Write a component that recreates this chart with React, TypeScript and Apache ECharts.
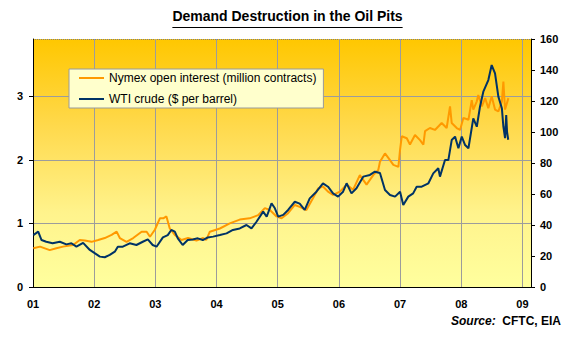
import React, { useEffect, useRef } from "react";
import * as echarts from "echarts";

const chartTitle = "Demand Destruction in the Oil Pits";
const oiName = "Nymex open interest (million contracts)";
const wtiName = "WTI crude ($ per barrel)";
const sourceLabel = "Source:";
const sourceText = "CFTC, EIA";

const leftTicks = [0, 1, 2, 3];

const oiDates = [
  "2001-01-03", "2001-02-12", "2001-04-11", "2001-05-20", "2001-06-29", "2001-08-28",
  "2001-10-07", "2001-11-06", "2001-12-16", "2002-01-25", "2002-03-05", "2002-04-15",
  "2002-05-15", "2002-06-03", "2002-07-13", "2002-08-22", "2002-10-11", "2002-11-10",
  "2002-11-30", "2002-12-29", "2003-01-28", "2003-02-17", "2003-03-08", "2003-03-28",
  "2003-04-27", "2003-06-06", "2003-07-15", "2003-09-03", "2003-10-13", "2003-11-01",
  "2003-11-22", "2004-01-21", "2004-03-20", "2004-05-19", "2004-07-17", "2004-09-06",
  "2004-10-16", "2004-11-15", "2004-12-25", "2005-01-24", "2005-03-04", "2005-04-13",
  "2005-05-12", "2005-06-21", "2005-07-31", "2005-08-30", "2005-09-28", "2005-10-28",
  "2005-11-27", "2006-01-07", "2006-02-16", "2006-03-27", "2006-05-06", "2006-06-15",
  "2006-07-25", "2006-08-24", "2006-09-03", "2006-10-03", "2006-10-23", "2006-11-22",
  "2006-12-22", "2007-01-01", "2007-01-11", "2007-02-10", "2007-03-01", "2007-03-31",
  "2007-04-30", "2007-05-20", "2007-05-30", "2007-06-28", "2007-07-28", "2007-09-06",
  "2007-10-06", "2007-10-26", "2007-11-05", "2007-12-05", "2007-12-25", "2008-01-14",
  "2008-02-13", "2008-03-04", "2008-03-13", "2008-04-03", "2008-04-12", "2008-05-03",
  "2008-05-23", "2008-06-11", "2008-07-01", "2008-07-21", "2008-08-10", "2008-08-31",
  "2008-09-09", "2008-09-19", "2008-10-09",
];
const oiValues = [
  0.61, 0.635, 0.58, 0.61, 0.635, 0.66,
  0.74, 0.73, 0.71, 0.74, 0.77, 0.82,
  0.87, 0.77, 0.71, 0.77, 0.87, 0.87,
  0.79, 0.9, 1.08, 1.08, 1.11, 0.92,
  0.82, 0.74, 0.77, 0.73, 0.77, 0.74,
  0.87, 0.92, 1.0, 1.06, 1.08, 1.13,
  1.24, 1.21, 1.11, 1.08, 1.16, 1.29,
  1.26, 1.21, 1.4, 1.55, 1.58, 1.5,
  1.45, 1.5, 1.61, 1.53, 1.76, 1.61,
  1.76, 1.84, 1.97, 2.1, 2.03, 1.92,
  1.89, 2.16, 2.37, 2.34, 2.24, 2.39,
  2.31, 2.24, 2.45, 2.5, 2.47, 2.58,
  2.5, 2.84, 2.58, 2.5, 2.47, 2.66,
  2.63, 2.94, 2.79, 2.92, 3.02, 2.84,
  2.97, 2.81, 3.0, 2.79, 2.76, 2.92,
  3.23, 2.79, 2.97,
];

const wtiDates = [
  "2001-01-03", "2001-02-01", "2001-02-21", "2001-03-21", "2001-04-28", "2001-06-10",
  "2001-07-19", "2001-08-18", "2001-09-17", "2001-10-27", "2001-12-06", "2002-01-06",
  "2002-02-04", "2002-03-05", "2002-04-04", "2002-05-04", "2002-05-22", "2002-06-21",
  "2002-08-01", "2002-09-10", "2002-10-18", "2002-11-17", "2002-12-16", "2003-01-08",
  "2003-02-15", "2003-03-16", "2003-04-06", "2003-04-27", "2003-05-15", "2003-06-13",
  "2003-07-13", "2003-08-12", "2003-09-11", "2003-10-11", "2003-11-10", "2003-12-12",
  "2004-01-21", "2004-03-01", "2004-04-08", "2004-05-19", "2004-06-28", "2004-07-28",
  "2004-08-27", "2004-10-06", "2004-10-27", "2004-11-25", "2004-12-15", "2005-01-04",
  "2005-02-03", "2005-03-04", "2005-04-13", "2005-05-12", "2005-06-11", "2005-07-11",
  "2005-08-20", "2005-09-28", "2005-10-28", "2005-11-27", "2005-12-27", "2006-01-26",
  "2006-02-16", "2006-03-17", "2006-04-16", "2006-05-26", "2006-07-05", "2006-08-04",
  "2006-09-03", "2006-10-03", "2006-11-02", "2006-12-02", "2007-01-01", "2007-01-20",
  "2007-02-19", "2007-03-20", "2007-04-10", "2007-05-10", "2007-06-19", "2007-07-18",
  "2007-08-17", "2007-08-27", "2007-09-26", "2007-10-16", "2007-11-05", "2007-11-25",
  "2007-12-15", "2008-01-04", "2008-01-24", "2008-02-13", "2008-03-13", "2008-04-03",
  "2008-04-22", "2008-05-12", "2008-06-11", "2008-07-01", "2008-07-21", "2008-08-10",
  "2008-08-31", "2008-09-09", "2008-09-19", "2008-09-26", "2008-10-01", "2008-10-08",
];
const wtiValues = [
  33.5, 35.7, 30.3, 29.2, 28.2, 29.2,
  27.5, 28.2, 26.0, 28.5, 23.9, 21.7,
  19.6, 19.2, 20.7, 22.8, 26.0, 26.0,
  28.2, 27.1, 29.2, 30.7, 27.1, 26.0,
  32.0, 33.5, 36.8, 35.7, 31.4, 27.1,
  30.3, 30.7, 31.4, 30.3, 32.0, 32.5,
  33.5, 34.6, 36.8, 37.8, 40.0, 37.8,
  42.1, 48.6, 45.3, 54.0, 50.8, 45.4,
  46.5, 49.7, 55.0, 53.8, 49.7, 57.2,
  61.5, 66.9, 64.7, 60.4, 58.3, 61.5,
  66.9, 60.4, 63.7, 71.2, 72.3, 74.4,
  73.5, 62.6, 59.4, 58.3, 61.5, 52.9,
  58.3, 60.4, 64.7, 64.7, 66.9, 73.3,
  76.6, 71.2, 81.9, 81.9, 94.8, 97.0,
  89.5, 97.0, 91.6, 89.5, 108.8, 103.4,
  116.3, 126.0, 133.5, 143.2, 137.8, 122.8,
  115.3, 103.4, 96.0, 111.0, 100.0, 95.0,
];

function toYear(s: string): number {
  const [y, m, d] = s.split("-").map(Number);
  const start = Date.UTC(y, 0, 1);
  const end = Date.UTC(y + 1, 0, 1);
  return y + (Date.UTC(y, m - 1, d) - start) / (end - start);
}

const FONT = "'Liberation Sans', Arial, Helvetica, sans-serif";
const LINE_ICON = "path://M0,0H25V2H0Z";

export default function App() {
  const ref = useRef<HTMLDivElement>(null);
  useEffect(() => {
    document.body.style.margin = "0";
    const chart = echarts.init(ref.current!, null, { renderer: "svg" });

    const oiData = oiDates.map((d, i) => [toYear(d), oiValues[i]]);
    const wtiData = wtiDates.map((d, i) => [toYear(d), wtiValues[i]]);

    const ctx = document.createElement("canvas").getContext("2d")!;
    ctx.font = `bold 14px ${FONT}`;
    const tw = ctx.measureText(chartTitle).width;
    const cx = 287.5;

    const axisLabelStyle = {
      fontFamily: FONT,
      fontSize: 11,
      fontWeight: "bold" as const,
      color: "#000",
    };

    chart.setOption({
      animation: false,
      backgroundColor: "#fff",
      title: {
        text: chartTitle,
        left: "center",
        top: 9,
        padding: 0,
        textStyle: { fontFamily: FONT, fontSize: 14, fontWeight: "bold", color: "#000" },
      },
      grid: {
        left: 33,
        right: 44,
        top: 39,
        bottom: 51,
        show: true,
        borderWidth: 0,
        backgroundColor: new echarts.graphic.LinearGradient(0, 0, 0, 1, [
          { offset: 0, color: "#FFC700" },
          { offset: 0.35, color: "#FFD94C" },
          { offset: 0.7, color: "#FFF38C" },
          { offset: 1, color: "#FFFF9E" },
        ]),
      },
      legend: {
        left: 69,
        top: 69,
        orient: "vertical",
        backgroundColor: "#FFFFCC",
        borderColor: "#9A9A9A",
        borderWidth: 1,
        padding: [3, 7, 3, 10],
        itemGap: 9,
        itemWidth: 25,
        itemHeight: 14,
        textStyle: { fontFamily: FONT, fontSize: 12, color: "#000" },
        data: [
          { name: oiName, icon: LINE_ICON },
          { name: wtiName, icon: LINE_ICON },
        ],
      },
      xAxis: {
        type: "value",
        min: 2001,
        max: 2009.14,
        interval: 1,
        axisLine: { show: true, lineStyle: { color: "#000", width: 1 } },
        axisTick: { show: false },
        axisLabel: {
          ...axisLabelStyle,
          margin: 11,
          showMaxLabel: false,
          formatter: (v: number) => String(Math.round(v)).slice(2),
        },
        splitLine: { show: true, lineStyle: { color: "#9C9C9C", width: 1 } },
      },
      yAxis: [
        {
          type: "value",
          position: "left",
          min: 0,
          max: 3.9,
          interval: 1,
          axisLine: { show: true, lineStyle: { color: "#000", width: 1 } },
          axisTick: { show: true, length: 4, customValues: leftTicks, lineStyle: { color: "#000" } },
          axisLabel: { ...axisLabelStyle, margin: 10, customValues: leftTicks },
          splitLine: { show: true, lineStyle: { color: "#9C9C9C", width: 1 } },
        },
        {
          type: "value",
          position: "right",
          min: 0,
          max: 160,
          interval: 20,
          axisLine: { show: true, lineStyle: { color: "#000", width: 1 } },
          axisTick: { show: true, length: 4, lineStyle: { color: "#000" } },
          axisLabel: { ...axisLabelStyle, margin: 9 },
          splitLine: { show: false },
        },
      ],
      series: [
        {
          name: oiName,
          type: "line",
          yAxisIndex: 0,
          data: oiData,
          symbol: "none",
          lineStyle: { color: "#FF9900", width: 2 },
          itemStyle: { color: "#FF9900" },
        },
        {
          name: wtiName,
          type: "line",
          yAxisIndex: 1,
          data: wtiData,
          symbol: "none",
          lineStyle: { color: "#003366", width: 2 },
          itemStyle: { color: "#003366" },
        },
      ],
      graphic: [
        {
          type: "line",
          shape: { x1: cx - tw / 2, y1: 27.5, x2: cx + tw / 2, y2: 27.5 },
          style: { stroke: "#000", lineWidth: 1 },
        },
        {
          type: "line",
          shape: { x1: 33, y1: 39.5, x2: 531, y2: 39.5 },
          style: { stroke: "#808080", lineWidth: 1, lineDash: [1, 1] },
        },
        {
          type: "text",
          right: 14,
          top: 315,
          style: {
            text: `{a|${sourceLabel}}  {b|${sourceText}}`,
            rich: {
              a: { fontFamily: FONT, fontSize: 12, fontWeight: "bold", fontStyle: "italic", fill: "#000" },
              b: { fontFamily: FONT, fontSize: 12, fontWeight: "bold", fill: "#000" },
            },
          },
        },
      ],
    });
    return () => chart.dispose();
  }, []);
  return (
    <div
      ref={ref}
      style={{ width: 575, height: 338, position: "absolute", left: 0, top: 0 }}
    />
  );
}
